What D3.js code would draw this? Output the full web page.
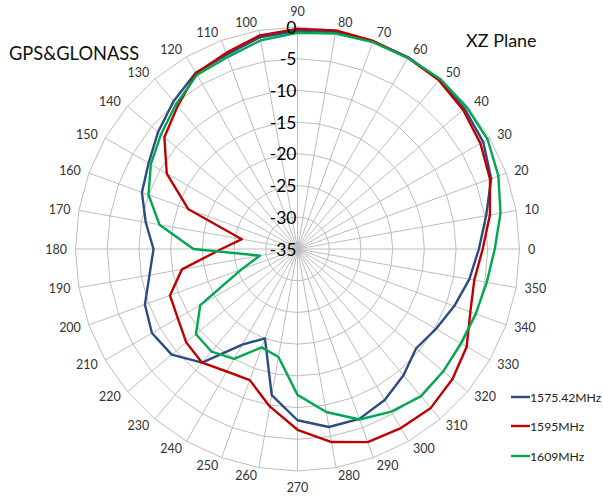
<!DOCTYPE html>
<html><head><meta charset="utf-8">
<script src="https://cdn.jsdelivr.net/npm/d3@7"></script>
<style>body{margin:0;background:#fff}svg{display:block}</style>
</head><body>
<svg id="chart" width="603" height="500"></svg>
<script>
// Angles (degrees) of each category
const angles = [0,10,20,30,40,50,60,70,80,90,100,110,120,130,140,150,160,170,180,190,200,210,220,230,240,250,260,270,280,290,300,310,320,330,340,350];
// Radial tick labels (dB)
const radialTicks = [0,-5,-10,-15,-20,-25,-30,-35];
// Series names
const seriesNames = ["1575.42MHz","1595MHz","1609MHz"];
// Series values (dB), one per angle
const gps1575 = [-6.4,-4.8,-2.5,-1.2,-0.6,-0.2,-0.1,-0.2,-0.3,-0.6,-1.1,-2.4,-2.9,-4.6,-6.3,-7.9,-8.9,-10.7,-12.3,-11.3,-9.4,-8.5,-9.1,-11.6,-17.6,-20.0,-11.6,-8.0,-6.5,-6.5,-7.5,-9.0,-10.6,-9.8,-8.7,-7.5];
const glo1595 = [-5.8,-4.2,-2.7,-1.7,-0.9,-0.3,-0.2,-0.1,0,-0.3,-0.8,-2.1,-3.0,-5.6,-7.6,-11.2,-16.7,-26.1,-23.0,-16.5,-13.6,-13.2,-12.1,-11.6,-12.7,-13.0,-9.8,-6.5,-4.1,-2.6,-2.4,-2.3,-3.1,-4.2,-6.0,-6.7];
const glo1609 = [-3.9,-2.5,-1.3,-0.4,-0.2,0,-0.2,-0.3,-0.5,-0.9,-1.6,-2.8,-3.3,-5.2,-6.9,-8.3,-10.0,-12.9,-18.6,-29.0,-25.6,-17.3,-14.1,-13.9,-15.0,-18.5,-17.7,-12.0,-8.9,-6.4,-5.4,-4.7,-5.0,-5.25,-5.1,-4.7];
const seriesValues = [gps1575, glo1595, glo1609];
const seriesColors = ["#2B4C7E","#C00000","#00A651"];

const svg = d3.select("#chart");
const cx = 297.5, cy = 249, R = 222;
const g = svg.append("g").attr("transform", `translate(${cx},${cy})`);

// angle scale: degrees (math, ccw from right) -> radians clockwise from top
const aScale = d3.scaleLinear().domain([0, 360]).range([Math.PI/2, Math.PI/2 - 2*Math.PI]);
const rScale = d3.scaleLinear().domain([-35, 0]).range([0, R]);
const font = "Lato, 'Open Sans', sans-serif";

// polygon rings
const ringLine = d3.lineRadial().angle(d => aScale(d.a)).radius(d => rScale(d.v)).curve(d3.curveLinearClosed);
radialTicks.filter(t => t > -35).forEach(t => {
  g.append("path").attr("d", ringLine(angles.map(a => ({a, v: t}))))
    .attr("fill", "none").attr("stroke", "#BDBDBD").attr("stroke-width", 1);
});
// spokes
angles.forEach(a => {
  const th = aScale(a);
  g.append("line").attr("x1", 0).attr("y1", 0)
    .attr("x2", rScale(0) * Math.sin(th)).attr("y2", -rScale(0) * Math.cos(th))
    .attr("stroke", "#BDBDBD").attr("stroke-width", 1);
});

// category labels
angles.forEach(a => {
  const th = aScale(a);
  const sx = Math.sin(th), sy = -Math.cos(th);
  const t = g.append("text").text(a).attr("font-family", font).attr("font-size", 12.5)
    .attr("fill", "#333").attr("text-anchor", "middle").attr("dominant-baseline", "central");
  const w = t.node().getComputedTextLength();
  const base = R + 8;
  let x = base * sx, y = base * sy;
  if (Math.abs(sx) < 0.01) {
    y += Math.sign(sy) * 8;
  } else {
    x += Math.sign(sx) * (w / 2 + 0.5);
  }
  t.attr("x", x).attr("y", y);
});

// series
const seriesLine = d3.lineRadial().angle((d, i) => aScale(angles[i])).radius(d => rScale(d)).curve(d3.curveLinearClosed);
seriesValues.forEach((vals, k) => {
  g.append("path").attr("d", seriesLine(vals)).attr("fill", "none")
    .attr("stroke", seriesColors[k]).attr("stroke-width", 2.4).attr("stroke-linejoin", "round");
});

// radial tick labels
radialTicks.forEach(t => {
  g.append("text").text(t).attr("x", -1).attr("y", -rScale(t))
    .attr("font-family", font).attr("font-size", 17.5).attr("fill", "#000")
    .attr("text-anchor", "end").attr("dominant-baseline", "central");
});

// titles
svg.append("text").text("GPS&GLONASS").attr("x", 9).attr("y", 60)
  .attr("font-family", font).attr("font-size", 18.3).attr("fill", "#111");
svg.append("text").text("XZ Plane").attr("x", 466).attr("y", 47)
  .attr("font-family", font).attr("font-size", 18).attr("fill", "#111");

// legend
const legY = [397, 426, 456];
seriesNames.forEach((n, k) => {
  svg.append("line").attr("x1", 511).attr("x2", 530).attr("y1", legY[k]).attr("y2", legY[k])
    .attr("stroke", seriesColors[k]).attr("stroke-width", 2.4);
  svg.append("text").text(n).attr("x", 530).attr("y", legY[k])
    .attr("font-family", font).attr("font-size", 12.2).attr("fill", "#222")
    .attr("dominant-baseline", "central");
});
</script>
</body></html>
